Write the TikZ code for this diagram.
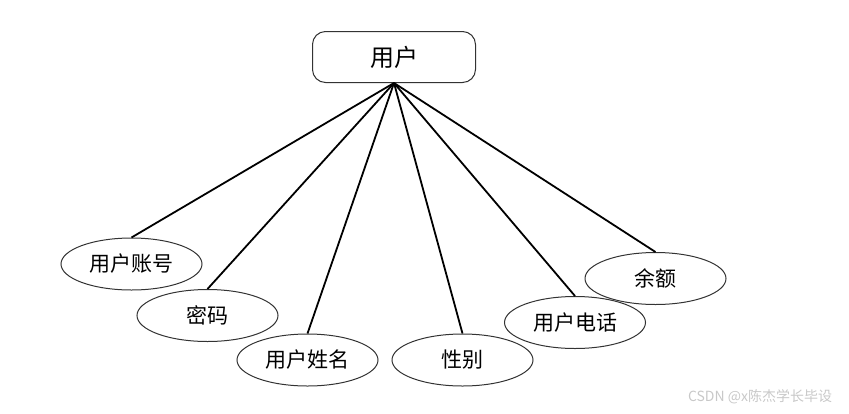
\documentclass[tikz,border=0pt]{standalone}
\usepackage{fontspec}
\newfontfamily\cjk{Noto Sans CJK SC}
\usetikzlibrary{shapes.geometric}
\usepackage{xcolor}
\definecolor{edge}{HTML}{000000}
\definecolor{rim}{HTML}{333333}
\definecolor{mark}{HTML}{C8C8C8}

\begin{document}
\begin{tikzpicture}[x=1pt,y=-1pt,
      entity/.style={draw=rim,line width=1pt,rounded corners=13pt,
                     minimum width=163pt,minimum height=51pt,font=\cjk\fontsize{24}{26}\selectfont},
      attr/.style={ellipse,draw=rim,line width=1pt,minimum width=141pt,
                   minimum height=52pt,inner sep=0pt,font=\cjk\fontsize{21}{24}\selectfont},
      link/.style={draw=edge,line width=1.8pt}]

    \useasboundingbox (0,0) rectangle (849,413);

    \node[entity] (user) at (394,57) {用户};

    \node[attr] (acct) at (131.5,264) {用户账号};
    \node[attr] (pwd) at (207.5,315.5) {密码};
    \node[attr] (name) at (307.5,360) {用户姓名};
    \node[attr] (sex) at (462.5,360) {性别};
    \node[attr] (tel) at (575,322.5) {用户电话};
    \node[attr] (bal) at (655.5,278.5) {余额};

    \foreach \a in {acct,pwd,name,sex,tel,bal}
      \draw[link] (user.south) -- (\a.north);

    \node[font=\cjk\fontsize{14}{16}\selectfont,text=mark] (wm) at (760,397) {CSDN @x陈杰学长毕设};
  \end{tikzpicture}
\end{document}
